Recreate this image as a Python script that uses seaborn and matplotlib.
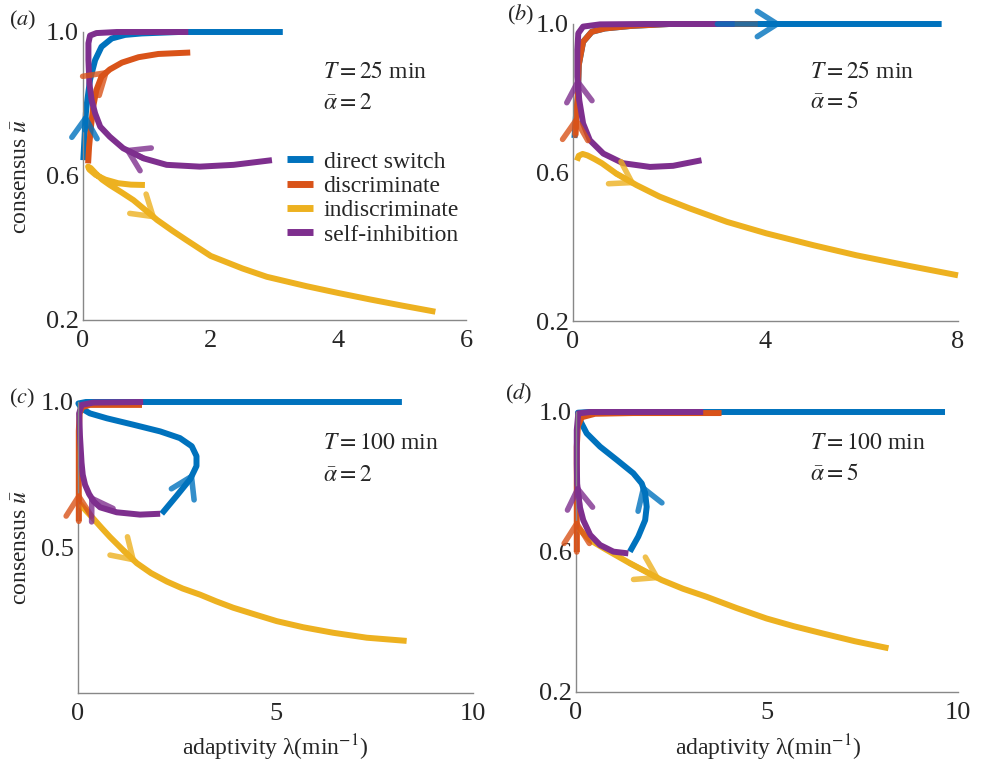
import numpy as np
import pandas as pd
import matplotlib.pyplot as plt
import seaborn as sns

# === Curves: adaptivity lambda (x) vs consensus u (y) ===
# panel (a): T = 25 min, alpha = 2
a_direct_x = [0.005, 0.03, 0.045, 0.06, 0.11, 0.19, 0.29, 0.45, 0.66, 0.92, 1.5, 2.3, 3.13]
a_direct_y = [0.644, 0.728, 0.775, 0.80, 0.867, 0.922, 0.959, 0.982, 0.992, 0.996, 1.0, 1.0, 1.0]
a_discr_x = [0.08, 0.095, 0.125, 0.16, 0.21, 0.29, 0.42, 0.61, 0.87, 1.18, 1.68]
a_discr_y = [0.635, 0.681, 0.737, 0.793, 0.839, 0.876, 0.896, 0.915, 0.93, 0.939, 0.943]
a_indis_x = [0.97, 0.75, 0.55, 0.35, 0.2, 0.1, 0.08, 0.12, 0.2, 0.3, 0.42, 0.6, 0.79, 1.0,
             1.16, 1.4, 1.62, 2.0, 2.5, 2.88, 3.5, 4.0, 4.5, 5.0, 5.52]
a_indis_y = [0.575, 0.576, 0.58, 0.59, 0.603, 0.618, 0.626, 0.622, 0.607, 0.59, 0.575, 0.555, 0.533, 0.502,
             0.478, 0.448, 0.422, 0.378, 0.343, 0.32, 0.294, 0.275, 0.257, 0.24, 0.223]
a_self_x = [2.96, 2.36, 1.83, 1.31, 0.95, 0.63, 0.42, 0.27, 0.19, 0.135, 0.1, 0.085, 0.085, 0.11, 0.21, 0.53, 1.65]
a_self_y = [0.644, 0.631, 0.626, 0.631, 0.649, 0.677, 0.709, 0.737, 0.774, 0.811, 0.857, 0.922, 0.969, 0.99, 0.997, 1.0, 1.0]

# panel (b): T = 25 min, alpha = 5
b_direct_x = [0.03, 0.06, 0.1, 0.12, 0.21, 0.39, 0.66, 1.22, 2.0, 3.0, 4.35, 6.0, 7.66]
b_direct_y = [0.693, 0.75, 0.80, 0.89, 0.952, 0.979, 0.988, 0.995, 1.0, 1.0, 1.0, 1.0, 1.0]
b_discr_x = [0.05, 0.07, 0.1, 0.12, 0.21, 0.39, 0.66, 1.22, 2.0, 3.84]
b_discr_y = [0.70, 0.755, 0.81, 0.89, 0.952, 0.979, 0.988, 0.995, 1.0, 1.0]
b_indis_x = [0.08, 0.12, 0.2, 0.3, 0.45, 0.6, 0.9, 1.32, 1.8, 2.43, 3.2, 4.02, 5.0, 5.89, 7.0, 8.0]
b_indis_y = [0.632, 0.645, 0.65, 0.646, 0.636, 0.625, 0.597, 0.566, 0.535, 0.503, 0.467, 0.436, 0.404, 0.377, 0.348, 0.323]
b_self_x = [2.67, 2.08, 1.6, 1.04, 0.63, 0.35, 0.21, 0.13, 0.09, 0.09, 0.11, 0.21, 0.56, 1.5, 3.36]
b_self_y = [0.633, 0.618, 0.615, 0.625, 0.651, 0.687, 0.732, 0.795, 0.858, 0.93, 0.975, 0.993, 0.999, 1.0, 1.0]

# panel (c): T = 100 min, alpha = 2
c_direct_x = [2.12, 2.5, 2.84, 2.93, 3.0, 3.0, 2.88, 2.58, 2.08, 1.4, 0.73, 0.3, 0.09, 0.01, 0.2, 1.0, 3.0, 5.0, 8.2]
c_direct_y = [0.616, 0.678, 0.735, 0.76, 0.78, 0.814, 0.848, 0.876, 0.899, 0.922, 0.944, 0.961, 0.978, 0.995,
              1.0, 1.0, 1.0, 1.0, 1.0]
c_discr_x = [0.02, 0.02, 0.02, 0.02, 0.04, 0.1, 0.3, 0.8, 1.62]
c_discr_y = [0.59, 0.694, 0.8, 0.9, 0.96, 0.982, 0.99, 0.99, 0.99]
c_indis_x = [0.05, 0.2, 0.39, 0.6, 0.81, 1.15, 1.49, 1.85, 2.25, 2.65, 3.09, 3.5, 3.93, 4.5, 5.03, 5.7, 6.46, 7.31, 8.32]
c_indis_y = [0.65, 0.627, 0.599, 0.567, 0.536, 0.49, 0.446, 0.412, 0.383, 0.359, 0.338, 0.315, 0.293, 0.269,
             0.247, 0.226, 0.207, 0.19, 0.179]
c_self_x = [2.08, 1.57, 0.98, 0.56, 0.4, 0.28, 0.18, 0.12, 0.09, 0.05, 0.03, 0.09, 0.39, 1.65]
c_self_y = [0.616, 0.613, 0.621, 0.638, 0.658, 0.684, 0.715, 0.75, 0.791, 0.882, 0.961, 0.99, 0.998, 1.0]

# panel (d): T = 100 min, alpha = 5
d_direct_x = [1.41, 1.63, 1.81, 1.85, 1.81, 1.72, 1.5, 1.07, 0.63, 0.28, 0.1, 0.05, 0.37, 2.0, 5.0, 9.66]
d_direct_y = [0.601, 0.644, 0.691, 0.729, 0.768, 0.796, 0.825, 0.863, 0.901, 0.939, 0.977, 0.998, 1.0, 1.0, 1.0, 1.0]
d_discr_x = [0.02, 0.02, 0.02, 0.02, 0.05, 0.15, 0.5, 1.5, 3.81]
d_discr_y = [0.6, 0.696, 0.8, 0.9, 0.96, 0.985, 0.995, 0.997, 0.997]
d_indis_x = [0.06, 0.37, 0.8, 1.41, 2.24, 2.8, 3.42, 4.2, 4.99, 5.7, 6.47, 7.3, 8.18]
d_indis_y = [0.668, 0.634, 0.606, 0.568, 0.52, 0.495, 0.472, 0.44, 0.41, 0.388, 0.367, 0.345, 0.325]
d_self_x = [1.37, 0.98, 0.63, 0.37, 0.19, 0.1, 0.03, 0.02, 0.02, 0.06, 0.37, 1.5, 3.33]
d_self_y = [0.596, 0.601, 0.62, 0.649, 0.691, 0.729, 0.795, 0.853, 0.948, 0.996, 1.0, 1.0, 1.0]

# index of the point where each arrow head sits (direct, discriminate, indiscriminate, self)
a_arrows = [2, 6, 14, 5]
b_arrows = [10, 1, 7, 8]
c_arrows = [3, 1, 6, 5]
d_arrows = [5, 1, 4, 6]

strategies = ["direct switch", "discriminate", "indiscriminate", "self-inhibition"]
colors = ["#0072BD", "#D95319", "#EDB120", "#7E2F8E"]

# === Style ===
sns.set_theme(style="white")
plt.rcParams["font.family"] = ["Liberation Serif", "DejaVu Serif"]
plt.rcParams["mathtext.fontset"] = "stix"

fig = plt.figure(figsize=(9.87, 7.64), dpi=100)
W, H = 987, 764


def px_axes(left, top, right, bottom):
    return fig.add_axes([left / W, 1 - bottom / H, (right - left) / W, (bottom - top) / H])


panels = [
    dict(box=(83, 32, 466, 320), label="a", T=25, alpha=2,
         curves=[(a_direct_x, a_direct_y), (a_discr_x, a_discr_y), (a_indis_x, a_indis_y), (a_self_x, a_self_y)],
         arrows=a_arrows, xlim=(0, 6), xticks=[0, 2, 4, 6], xlabels=["0", "2", "4", "6"],
         ylim=(0.2, 1.0), yticks=[0.2, 0.4, 0.6, 0.8, 1.0], ylabels=["0.2", "", "0.6", "", "1.0"],
         text_pos=(0.627, 0.861, 0.753)),
    dict(box=(573, 24, 958, 321), label="b", T=25, alpha=5,
         curves=[(b_direct_x, b_direct_y), (b_discr_x, b_discr_y), (b_indis_x, b_indis_y), (b_self_x, b_self_y)],
         arrows=b_arrows, xlim=(0, 8), xticks=[0, 4, 8], xlabels=["0", "4", "8"],
         ylim=(0.2, 1.0), yticks=[0.2, 0.4, 0.6, 0.8, 1.0], ylabels=["0.2", "", "0.6", "", "1.0"],
         text_pos=(0.616, 0.838, 0.737)),
    dict(box=(78, 402, 473, 693), label="c", T=100, alpha=2,
         curves=[(c_direct_x, c_direct_y), (c_discr_x, c_discr_y), (c_indis_x, c_indis_y), (c_self_x, c_self_y)],
         arrows=c_arrows, xlim=(0, 10), xticks=[0, 5, 10], xlabels=["0", "5", "10"],
         ylim=(0.0, 1.0), yticks=[0.0, 0.5, 1.0], ylabels=["", "0.5", "1.0"],
         text_pos=(0.62, 0.859, 0.749)),
    dict(box=(576, 412, 958, 692), label="d", T=100, alpha=5,
         curves=[(d_direct_x, d_direct_y), (d_discr_x, d_discr_y), (d_indis_x, d_indis_y), (d_self_x, d_self_y)],
         arrows=d_arrows, xlim=(0, 10), xticks=[0, 5, 10], xlabels=["0", "5", "10"],
         ylim=(0.2, 1.0), yticks=[0.2, 0.4, 0.6, 0.8, 1.0], ylabels=["0.2", "", "0.6", "", "1.0"],
         text_pos=(0.613, 0.889, 0.775)),
]

for p in panels:
    ax = px_axes(*p["box"])

    # --- curves ---
    for name, col, (xs, ys) in zip(strategies, colors, p["curves"]):
        df = pd.DataFrame({"lam": xs, "u": ys})
        sns.lineplot(data=df, x="lam", y="u", sort=False, estimator=None, color=col,
                     lw=4.3, clip_on=False, solid_capstyle="butt", solid_joinstyle="round",
                     label=name, legend=False, ax=ax)

    # --- chevron arrows on each curve ---
    for col, (xs, ys), i in zip(colors, p["curves"], p["arrows"]):
        ax.annotate("", xy=(xs[i], ys[i]), xytext=(xs[i - 1], ys[i - 1]),
                    arrowprops=dict(arrowstyle="->,head_length=0.55,head_width=0.35",
                                    color=col, alpha=0.8, lw=4.0, mutation_scale=26,
                                    shrinkA=0, shrinkB=0),
                    annotation_clip=False, zorder=5)

    ax.set_xlim(*p["xlim"])
    ax.set_ylim(*p["ylim"])
    ax.set_xticks(p["xticks"], p["xlabels"])
    ax.set_yticks(p["yticks"], p["ylabels"])
    ax.set_xlabel("")
    ax.set_ylabel("")
    ax.tick_params(direction="in", length=4, width=1, color="#888888", labelsize=19)
    ax.tick_params(axis="x", pad=7)
    ax.tick_params(axis="y", pad=3)
    sns.despine(ax=ax)
    for s in ["left", "bottom"]:
        ax.spines[s].set_color("#888888")
        ax.spines[s].set_linewidth(1)

    tx, ty1, ty2 = p["text_pos"]
    ax.text(tx, ty1, rf"$T = {p['T']}$ min", transform=ax.transAxes, fontsize=17, va="center")
    ax.text(tx, ty2, rf"$\bar{{\alpha}} = {p['alpha']}$", transform=ax.transAxes, fontsize=17, va="center")

    if p["label"] == "a":
        leg = ax.legend(loc="upper left", bbox_to_anchor=((287 - 83) / 383, (320 - 151) / 288),
                        frameon=False, fontsize=17, handlelength=1.1, handletextpad=0.45,
                        labelspacing=0.12, borderpad=0, borderaxespad=0)
        for h in leg.get_lines():
            h.set_linewidth(5)

# === Panel letters and shared axis labels ===
for lab, x, y in [("a", 23, 20), ("b", 521, 15), ("c", 22, 398), ("d", 519, 394)]:
    fig.text(x / W, 1 - y / H, rf"(${lab}$)", fontsize=16, ha="center", va="center")

for y in [176, 547]:
    fig.text(22 / W, 1 - y / H, r"consensus $\bar{u}$", fontsize=17, rotation=90,
             ha="center", va="center")

for x in [275, 768]:
    fig.text(x / W, 1 - 748 / H, r"adaptivity λ(min$^{-1}$)", fontsize=17,
             ha="center", va="center")

fig.savefig("out.png", dpi=100)
